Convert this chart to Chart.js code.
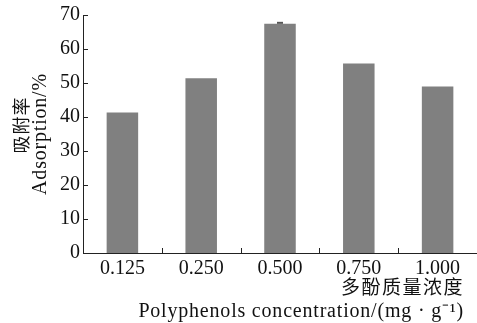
<!DOCTYPE html>
<html>
<head>
<meta charset="utf-8">
<script src="https://cdn.jsdelivr.net/npm/chart.js@4/dist/chart.umd.min.js"></script>
<style>
  html, body { margin: 0; padding: 0; background: #fff; }
</style>
</head>
<body>
<canvas id="adsChart" width="477" height="323"></canvas>
<script>
// data
var concentrations = ['0.125', '0.250', '0.500', '0.750', '1.000'];
var adsorption = [41.3, 51.4, 67.4, 55.7, 49.0];
var adsorptionErr = [0, 0, 0.3, 0, 0];
var yTicks = [0, 10, 20, 30, 40, 50, 60, 70];
var yTitle = ['吸附率', 'Adsorption/%'];
var xTitle = ['多酚质量浓度', 'Polyphenols concentration/(mg · g⁻¹)'];

var serif = '"Liberation Serif", "Times New Roman", serif';
var cjk = '"Noto Sans CJK SC", sans-serif';

// short inner tick marks, tiny error caps and the spaced-out axis titles
var extras = {
  id: 'extras',
  afterDraw: function(chart) {
    var ctx = chart.ctx;
    var x = chart.scales.x, y = chart.scales.y;
    var area = chart.chartArea;
    ctx.save();
    ctx.strokeStyle = '#222';
    ctx.lineWidth = 1;
    ctx.beginPath();
    yTicks.forEach(function(v) {
      var py = Math.round(y.getPixelForValue(v)) + 0.5;
      ctx.moveTo(area.left, py);
      ctx.lineTo(area.left + 5, py);
    });
    for (var i = 1; i < concentrations.length; i++) {
      var px = Math.round((x.getPixelForValue(i - 1) + x.getPixelForValue(i)) / 2) + 0.5;
      ctx.moveTo(px, area.bottom);
      ctx.lineTo(px, area.bottom - 5);
    }
    ctx.stroke();

    // error caps
    ctx.strokeStyle = '#555';
    ctx.lineWidth = 2;
    ctx.beginPath();
    adsorptionErr.forEach(function(e, i) {
      if (!e) return;
      var cx = x.getPixelForValue(i);
      var top = y.getPixelForValue(adsorption[i] + e);
      ctx.moveTo(cx - 3, top);
      ctx.lineTo(cx + 3, top);
    });
    ctx.stroke();

    // titles
    ctx.fillStyle = '#111';
    ctx.textBaseline = 'middle';
    ctx.letterSpacing = '0.8px';
    ctx.textAlign = 'right';
    ctx.font = '19px ' + cjk;
    ctx.letterSpacing = '1.5px';
    ctx.fillText(xTitle[0], 464, 287);
    ctx.font = '20px ' + serif;
    ctx.letterSpacing = '0.8px';
    ctx.fillText(xTitle[1], 464, 312);

    var midY = (area.top + area.bottom) / 2;
    ctx.textAlign = 'center';
    ctx.translate(21, midY - 9);
    ctx.rotate(-Math.PI / 2);
    ctx.font = '18px ' + cjk;
    ctx.letterSpacing = '1px';
    ctx.fillText(yTitle[0], 0, 0);
    ctx.rotate(Math.PI / 2);
    ctx.translate(20, 9);
    ctx.rotate(-Math.PI / 2);
    ctx.font = '20px ' + serif;
    ctx.letterSpacing = '0.8px';
    ctx.fillText(yTitle[1], 0, 0);
    ctx.restore();
  }
};

var ctx = document.getElementById('adsChart').getContext('2d');
var adsChart = new Chart(ctx, {
  type: 'bar',
  data: {
    labels: concentrations,
    datasets: [{
      data: adsorption,
      backgroundColor: '#808080',
      borderWidth: 0,
      barPercentage: 0.4,
      categoryPercentage: 1.0
    }]
  },
  options: {
    responsive: false,
    animation: false,
    devicePixelRatio: 1,
    layout: { padding: { top: 9, right: 0, left: 0, bottom: 0 } },
    plugins: { legend: { display: false }, tooltip: { enabled: false } },
    scales: {
      x: {
        afterFit: function(scale) { scale.height = 70; },
        grid: { display: false, drawTicks: false },
        border: { display: true, color: '#222', width: 1 },
        ticks: { color: '#111', font: { family: serif, size: 20 }, padding: 4, maxRotation: 0 }
      },
      y: {
        min: 0,
        max: 70,
        afterFit: function(scale) { scale.width = 83; },
        afterBuildTicks: function(scale) {
          scale.ticks = yTicks.map(function(v) { return { value: v }; });
        },
        grid: { display: false, drawTicks: false },
        border: { display: true, color: '#222', width: 1 },
        ticks: { color: '#111', font: { family: serif, size: 20 }, padding: 3 }
      }
    }
  },
  plugins: [extras]
});
</script>
</body>
</html>
